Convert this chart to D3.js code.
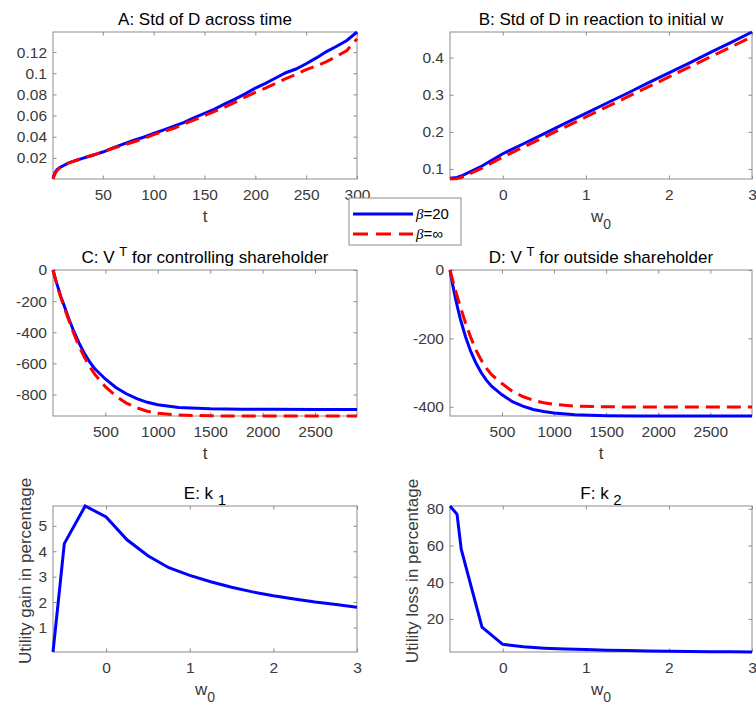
<!DOCTYPE html>
<html>
<head>
<meta charset="utf-8">
<script src="https://cdn.jsdelivr.net/npm/d3@7"></script>
<style>
  body { margin: 0; background: #fff; }
  text { font-family: "Liberation Sans", Arial, sans-serif; }
</style>
</head>
<body>
<div id="chart"></div>
<script>
// DATA ------------------------------------
// A: std of D across time
const aT = [1, 3, 5, 8, 12, 16, 20, 25, 30, 35, 40, 45, 50, 60, 70, 80, 90, 100, 110, 120, 130, 140, 150,
  160, 170, 180, 190, 200, 210, 220, 230, 240, 250, 260, 270, 280, 290, 300];
const aBlue = [0.001, 0.006, 0.009, 0.011, 0.013, 0.015, 0.0165, 0.018, 0.0195, 0.021, 0.0225, 0.024, 0.0255,
  0.0295, 0.033, 0.0365, 0.0395, 0.043, 0.0465, 0.050, 0.0535, 0.058, 0.062, 0.066, 0.071, 0.0755, 0.0805,
  0.086, 0.0905, 0.0955, 0.1005, 0.104, 0.109, 0.1145, 0.1205, 0.1255, 0.131, 0.139];
const aRed = [0.0, 0.005, 0.008, 0.011, 0.013, 0.015, 0.0165, 0.018, 0.0195, 0.021, 0.0225, 0.024, 0.0255,
  0.029, 0.032, 0.035, 0.038, 0.042, 0.045, 0.048, 0.052, 0.056, 0.060, 0.064, 0.068, 0.0725, 0.0775,
  0.082, 0.086, 0.0905, 0.095, 0.099, 0.1035, 0.107, 0.111, 0.116, 0.1215, 0.1325];

// w0 grid for B, E, F
const w0 = [-0.635, -0.55, -0.5, -0.25, 0, 0.25, 0.5, 0.75, 1, 1.25, 1.5, 1.75, 2, 2.25, 2.5, 2.75, 3];
const bBlue = [0.075, 0.077, 0.081, 0.108, 0.141, 0.168, 0.195, 0.223, 0.250, 0.277, 0.304, 0.332, 0.359,
  0.386, 0.414, 0.441, 0.469];
const bRed = [0.073, 0.074, 0.077, 0.102, 0.132, 0.159, 0.186, 0.213, 0.240, 0.267, 0.294, 0.321, 0.348,
  0.375, 0.402, 0.429, 0.456];

// C, D: V^T over time
const cT = [1, 25, 50, 75, 100, 150, 200, 250, 300, 350, 400, 500, 600, 700, 800, 900, 1000, 1200, 1500,
  1800, 2100, 2500, 2900];
const cBlue = [0, -60, -115, -170, -215, -310, -395, -470, -535, -590, -635, -700, -755, -795, -827, -850,
  -866, -883, -892, -895, -895, -896, -896];
const cRed = [0, -62, -120, -175, -225, -320, -410, -490, -560, -620, -670, -750, -810, -855, -885, -907,
  -920, -932, -937, -938, -938, -938, -938];
const dBlue = [0, -40, -78, -112, -143, -195, -238, -272, -300, -322, -340, -365, -385, -398, -408, -414,
  -418, -423, -426, -427, -427, -427, -427];
const dRed = [0, -28, -56, -82, -107, -155, -197, -234, -263, -287, -306, -332, -355, -370, -381, -388,
  -393, -398, -400, -401, -401, -401, -401];

// E, F: k1, k2
const eK1 = [0.035, 2.7, 4.3, 5.78, 5.35, 4.45, 3.82, 3.35, 3.05, 2.8, 2.58, 2.4, 2.25, 2.12, 2.0, 1.9, 1.8];
const fK2 = [81.5, 77, 58, 15.5, 6.2, 4.8, 4.1, 3.6, 3.3, 3.0, 2.8, 2.6, 2.45, 2.3, 2.2, 2.1, 2.0];

// tick values
const aXTicks = [50, 100, 150, 200, 250, 300];
const aYTicks = [0.02, 0.04, 0.06, 0.08, 0.1, 0.12];
const wTicks = [0, 1, 2, 3];
const bYTicks = [0.1, 0.2, 0.3, 0.4];
const cXTicks = [500, 1000, 1500, 2000, 2500];
const cYTicks = [0, -200, -400, -600, -800];
const dYTicks = [0, -200, -400];
const eYTicks = [1, 2, 3, 4, 5];
const fYTicks = [20, 40, 60, 80];

const legendLabels = ["=20", "=\u221e"];

// CHART INIT ------------------------------
const W = 756, H = 706;
const svg = d3.select("#chart").append("svg")
  .attr("width", W)
  .attr("height", H);

const blue = "#0000ff", red = "#ff0000";
const axisColor = "#8c8c8c", tickText = "#3a3a3a";

const cols = [[53, 357], [450, 752]];
const rows = [[32, 179], [270, 416], [506, 652]];

const panels = [
  {col: 0, row: 0, title: [["A: Std of D across time"]], xlab: "t", xd: [1, 300], xt: aXTicks, yt: aYTicks,
    series: [{x: aT, y: aBlue, c: blue}, {x: aT, y: aRed, c: red, dash: true}]},
  {col: 1, row: 0, title: [["B: Std of D in reaction to initial w"]], xlab: "w", xd: [-0.635, 3], xt: wTicks, yt: bYTicks,
    series: [{x: w0, y: bBlue, c: blue}, {x: w0, y: bRed, c: red, dash: true}]},
  {col: 0, row: 1, title: [["C: V "], ["T", "sup"], [" for controlling shareholder", "back"]], xlab: "t", xd: [1, 2900], xt: cXTicks, yt: cYTicks,
    series: [{x: cT, y: cBlue, c: blue}, {x: cT, y: cRed, c: red, dash: true}]},
  {col: 1, row: 1, title: [["D: V "], ["T", "sup"], [" for outside shareholder", "back"]], xlab: "t", xd: [1, 2900], xt: cXTicks, yt: dYTicks,
    series: [{x: cT, y: dBlue, c: blue}, {x: cT, y: dRed, c: red, dash: true}]},
  {col: 0, row: 2, title: [["E: k "], ["1", "sub"]], xlab: "w", ylab: "Utility gain in percentage", ylabX: -22,
    xd: [-0.635, 3], xt: wTicks, yt: eYTicks,
    series: [{x: w0, y: eK1, c: blue}]},
  {col: 1, row: 2, title: [["F: k "], ["2", "sub"]], xlab: "w", ylab: "Utility loss in percentage", ylabX: -32,
    xd: [-0.635, 3], xt: wTicks, yt: fYTicks,
    series: [{x: w0, y: fK2, c: blue}]}
];

// DRAW PANELS -----------------------------
panels.forEach(p => {
  const [x0, x1] = cols[p.col];
  const [y0, y1] = rows[p.row];
  const w = x1 - x0, h = y1 - y0;
  const g = svg.append("g").attr("transform", "translate(" + x0 + "," + y0 + ")");

  const allY = p.series.flatMap(s => s.y);
  const xScale = d3.scaleLinear().domain(p.xd).range([0, w]);
  const yScale = d3.scaleLinear().domain(d3.extent(allY)).range([h, 0]);

  // axes: labels bottom/left, inner ticks on all four sides
  const fmt = d3.format("~g");
  const xb = g.append("g").attr("transform", "translate(0," + h + ")")
    .call(d3.axisBottom(xScale).tickValues(p.xt).tickSize(-3.5).tickSizeOuter(0).tickPadding(10).tickFormat(fmt));
  const xt = g.append("g")
    .call(d3.axisTop(xScale).tickValues(p.xt).tickSize(-3.5).tickSizeOuter(0).tickFormat(""));
  const yl = g.append("g")
    .call(d3.axisLeft(yScale).tickValues(p.yt).tickSize(-3.5).tickSizeOuter(0).tickPadding(6).tickFormat(fmt));
  const yr = g.append("g").attr("transform", "translate(" + w + ",0)")
    .call(d3.axisRight(yScale).tickValues(p.yt).tickSize(-3.5).tickSizeOuter(0).tickFormat(""));
  [xb, xt, yl, yr].forEach(a => {
    a.select(".domain").remove();
    a.selectAll(".tick line").attr("stroke", axisColor);
    a.selectAll("text").attr("fill", tickText).style("font-size", "15.5px");
  });
  // minus sign as plain hyphen like the original
  yl.selectAll("text").text(d => fmt(d).replace("\u2212", "-"));

  g.append("rect")
    .attr("width", w).attr("height", h)
    .attr("fill", "none").attr("stroke", axisColor).attr("stroke-width", 1);

  // lines
  const line = d3.line().x(d => xScale(d[0])).y(d => yScale(d[1]));
  p.series.forEach(s => {
    g.append("path")
      .datum(s.x.map((v, i) => [v, s.y[i]]))
      .attr("fill", "none")
      .attr("stroke", s.c)
      .attr("stroke-width", 3)
      .attr("stroke-dasharray", s.dash ? "14,7" : null)
      .attr("d", line);
  });

  // title
  const tt = g.append("text")
    .attr("x", w / 2).attr("y", -7)
    .attr("text-anchor", "middle")
    .style("font-size", "17px").attr("fill", "#000");
  p.title.forEach(([txt, kind]) => {
    const ts = tt.append("tspan").text(txt);
    if (kind == "sup") ts.attr("dy", -7).style("font-size", "13px");
    if (kind == "back") ts.attr("dy", 7);
    if (kind == "sub") ts.attr("dy", 6).style("font-size", "15px");
  });

  // x label
  const xl = g.append("text")
    .attr("x", w / 2).attr("y", h + 43)
    .attr("text-anchor", "middle")
    .attr("fill", tickText)
    .style("font-size", "17px");
  xl.append("tspan").text(p.xlab);
  if (p.xlab == "w") xl.append("tspan").attr("dy", 7).style("font-size", "14px").text("0");

  // y label
  if (p.ylab) {
    g.append("text")
      .attr("transform", "translate(" + p.ylabX + "," + (h / 2 - 8) + ") rotate(-90)")
      .attr("text-anchor", "middle")
      .attr("fill", tickText)
      .style("font-size", "17px")
      .text(p.ylab);
  }
});

// LEGEND ----------------------------------
const leg = svg.append("g").attr("transform", "translate(349,198)");
leg.append("rect")
  .attr("width", 112).attr("height", 47)
  .attr("fill", "#fff").attr("stroke", axisColor);
[blue, red].forEach((c, i) => {
  const yy = 16 + i * 20;
  leg.append("line")
    .attr("x1", 4).attr("x2", 64).attr("y1", yy).attr("y2", yy)
    .attr("stroke", c).attr("stroke-width", 3)
    .attr("stroke-dasharray", i == 1 ? "15,8" : null);
  const t = leg.append("text").attr("x", 67).attr("y", yy + 5).style("font-size", "15px").attr("fill", "#000");
  t.append("tspan").style("font-family", "'Liberation Serif', serif").style("font-style", "italic").text("\u03b2");
  t.append("tspan").text(legendLabels[i]);
});
</script>
</body>
</html>
